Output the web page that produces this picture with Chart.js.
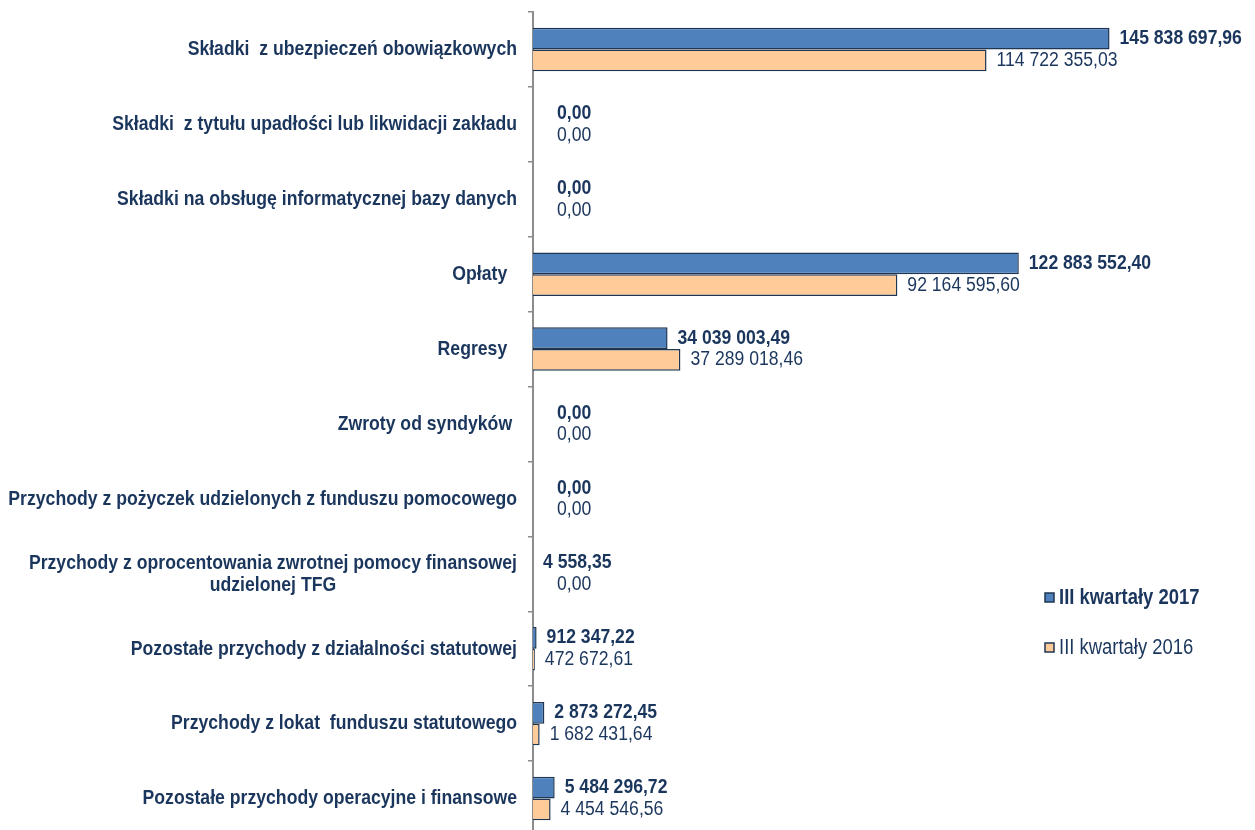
<!DOCTYPE html>
<html lang="pl">
<head>
<meta charset="UTF-8">
<title>Przychody - III kwartały 2017 / 2016</title>
<script src="https://cdn.jsdelivr.net/npm/chart.js"></script>
<style>
    html, body {
        margin: 0;
        padding: 0;
        background: #fff;
        overflow: hidden;
    }
    #wrap {
        width: 1255px;
        height: 836px;
    }
</style>
</head>
<body>
<div id="wrap">
    <canvas id="chart" width="1255" height="836"></canvas>
</div>
<script>
// dane
const categories = [
    'Składki  z ubezpieczeń obowiązkowych',
    'Składki  z tytułu upadłości lub likwidacji zakładu',
    'Składki na obsługę informatycznej bazy danych',
    'Opłaty  ',
    'Regresy  ',
    'Zwroty od syndyków ',
    'Przychody z pożyczek udzielonych z funduszu pomocowego',
    ['Przychody z oprocentowania zwrotnej pomocy finansowej', 'udzielonej TFG'],
    'Pozostałe przychody z działalności statutowej',
    'Przychody z lokat  funduszu statutowego',
    'Pozostałe przychody operacyjne i finansowe'
];
const seriesNames = ['III kwartały 2017', 'III kwartały 2016'];
const values2017 = [145838697.96, 0, 0, 122883552.40, 34039003.49, 0, 0, 4558.35, 912347.22, 2873272.45, 5484296.72];
const values2016 = [114722355.03, 0, 0, 92164595.60, 37289018.46, 0, 0, 0, 472672.61, 1682431.64, 4454546.56];

// brak Arial Narrow - zwężamy Liberation Sans w poziomie
const FONT = "'Liberation Sans', Arial, sans-serif";
const SX_CAT = 0.84;
const SX_VAL = 0.88;
const SX_LEG = 0.82;
const TEXT = '#1B365D';
const BLUE = '#4F81BD';
const ORANGE = '#FFCC99';
const EDGE = '#1F3552';
const AXIS = '#8C8C8C';

// 1 234 567,89
function fmt(v) {
    const parts = v.toFixed(2).split('.');
    return parts[0].replace(/\B(?=(\d{3})+(?!\d))/g, ' ') + ',' + parts[1];
}

function narrowText(ctx, text, x, y, sx) {
    ctx.save();
    ctx.translate(x, y);
    ctx.scale(sx, 1);
    ctx.fillText(text, 0, 0);
    ctx.restore();
}

// etykiety kategorii (wyśrodkowane wieloliniowe, wyrównane do prawej)
const categoryLabels = {
    id: 'categoryLabels',
    afterDraw(chart) {
        const ctx = chart.ctx;
        const yScale = chart.scales.y;
        const right = yScale.right - 16;
        ctx.save();
        ctx.font = 'bold 21px ' + FONT;
        ctx.fillStyle = TEXT;
        ctx.textAlign = 'center';
        ctx.textBaseline = 'middle';
        categories.forEach((c, i) => {
            const lines = Array.isArray(c) ? c : [c];
            const maxW = Math.max(...lines.map(l => ctx.measureText(l).width)) * SX_CAT;
            const cx = right - maxW / 2;
            const y = yScale.getPixelForValue(i);
            lines.forEach((l, k) => {
                narrowText(ctx, l, cx, y + (k - (lines.length - 1) / 2) * 22, SX_CAT);
            });
        });
        ctx.restore();
    }
};

// wartości przy słupkach
const valueLabels = {
    id: 'valueLabels',
    afterDatasetsDraw(chart) {
        const ctx = chart.ctx;
        ctx.save();
        ctx.fillStyle = TEXT;
        ctx.textAlign = 'left';
        ctx.textBaseline = 'middle';
        chart.data.datasets.forEach((ds, di) => {
            const meta = chart.getDatasetMeta(di);
            ctx.font = (di === 0 ? 'bold ' : '') + '20px ' + FONT;
            meta.data.forEach((bar, i) => {
                const v = ds.data[i];
                narrowText(ctx, fmt(v), bar.x + (v === 0 ? 24 : 10), bar.y, SX_VAL);
            });
        });
        ctx.restore();
    }
};

// legenda po prawej
const sideLegend = {
    id: 'sideLegend',
    afterDraw(chart) {
        const ctx = chart.ctx;
        const items = [
            { name: seriesNames[0], color: BLUE, bold: true, y: 598 },
            { name: seriesNames[1], color: ORANGE, bold: false, y: 648 }
        ];
        ctx.save();
        items.forEach(it => {
            ctx.fillStyle = it.color;
            ctx.fillRect(1045, it.y - 5, 9, 9);
            ctx.strokeStyle = EDGE;
            ctx.lineWidth = 1.5;
            ctx.strokeRect(1045, it.y - 5, 9, 9);
            ctx.fillStyle = TEXT;
            ctx.font = (it.bold ? 'bold ' : '') + '22.5px ' + FONT;
            ctx.textAlign = 'left';
            ctx.textBaseline = 'middle';
            narrowText(ctx, it.name, 1059, it.y, SX_LEG);
        });
        ctx.restore();
    }
};

new Chart(document.getElementById('chart'), {
    type: 'bar',
    data: {
        labels: categories,
        datasets: [{
            label: seriesNames[0],
            data: values2017,
            backgroundColor: BLUE,
            borderColor: EDGE,
            borderWidth: 1.5
        }, {
            label: seriesNames[1],
            data: values2016,
            backgroundColor: ORANGE,
            borderColor: EDGE,
            borderWidth: 1.5
        }]
    },
    options: {
        indexAxis: 'y',
        responsive: false,
        animation: false,
        devicePixelRatio: 1,
        categoryPercentage: 0.58,
        barPercentage: 1.0,
        layout: {
            padding: { top: 12, right: 129, bottom: 0, left: 0 }
        },
        plugins: {
            legend: { display: false },
            tooltip: { enabled: false }
        },
        scales: {
            x: {
                display: false,
                min: 0,
                max: 150000000
            },
            y: {
                ticks: { display: false },
                grid: {
                    drawOnChartArea: false,
                    drawTicks: true,
                    tickLength: 5,
                    color: AXIS,
                    lineWidth: 1.5
                },
                border: { display: true, color: AXIS, width: 2 },
                afterFit(scale) { scale.width = 533; }
            }
        }
    },
    plugins: [categoryLabels, valueLabels, sideLegend]
});
</script>
</body>
</html>
